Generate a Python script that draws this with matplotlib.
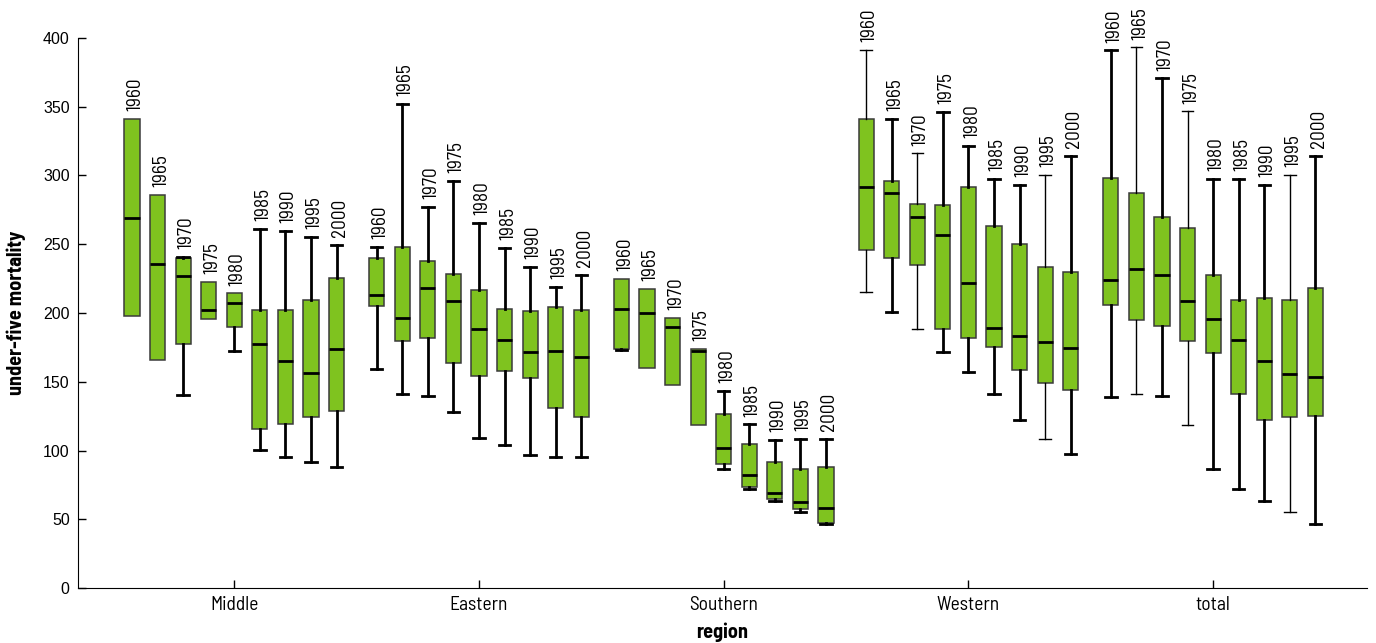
import matplotlib
matplotlib.use("Agg")
import matplotlib.pyplot as plt

plt.rcParams["font.family"] = ["Barlow Semi Condensed", "DejaVu Sans"]

regions = ["Middle", "Eastern", "Southern", "Western", "total"]
years = ["1960", "1965", "1970", "1975", "1980", "1985", "1990", "1995", "2000"]

# box statistics, one row of 9 years per region
whislo = [
    [197.5, 166.0, 140.0, 195.8, 172.5, 100.2, 95.4, 91.5, 88.0],
    [159.0, 141.3, 139.9, 128.0, 109.4, 104.0, 97.0, 95.6, 95.6],
    [173.0, 159.7, 147.6, 118.6, 86.6, 71.9, 63.4, 55.4, 46.7],
    [215.1, 200.9, 188.0, 171.8, 156.8, 141.1, 122.2, 108.7, 97.3],
    [138.6, 141.3, 139.8, 118.6, 86.6, 71.9, 63.4, 55.3, 46.8],
]
q1 = [
    [197.5, 166.0, 177.6, 195.8, 189.7, 115.4, 119.0, 124.1, 128.5],
    [205.2, 179.5, 181.7, 163.3, 153.9, 157.5, 152.5, 130.7, 124.6],
    [174.0, 159.7, 147.6, 118.6, 90.0, 73.8, 64.4, 57.3, 47.4],
    [245.6, 239.8, 235.0, 188.3, 182.0, 175.2, 158.3, 149.0, 144.2],
    [205.6, 195.0, 190.3, 179.6, 170.6, 141.3, 122.3, 124.1, 124.9],
]
med = [
    [269.0, 235.5, 227.0, 202.3, 207.0, 177.6, 164.8, 156.5, 174.0],
    [213.0, 196.2, 218.5, 208.6, 188.0, 180.3, 171.8, 172.3, 168.2],
    [203.0, 200.2, 189.5, 172.0, 102.1, 82.0, 69.0, 62.7, 58.1],
    [291.3, 287.0, 269.6, 257.0, 222.1, 189.3, 183.2, 178.8, 174.5],
    [224.3, 232.3, 227.3, 208.6, 195.4, 180.3, 165.3, 155.6, 153.3],
]
q3 = [
    [341.0, 286.0, 240.0, 222.6, 214.4, 202.0, 202.0, 209.3, 225.5],
    [239.8, 248.3, 237.6, 228.4, 216.6, 203.0, 201.3, 204.5, 202.3],
    [224.8, 217.8, 196.5, 174.0, 126.8, 105.0, 91.5, 86.6, 88.1],
    [341.4, 296.0, 279.0, 278.3, 291.6, 263.0, 250.5, 233.5, 229.9],
    [297.9, 286.9, 269.8, 261.6, 227.8, 209.4, 211.1, 209.4, 218.1],
]
whishi = [
    [341.0, 286.0, 241.0, 222.6, 214.4, 261.3, 259.7, 255.5, 249.7],
    [248.3, 352.3, 277.0, 296.0, 265.5, 247.5, 233.5, 219.2, 227.7],
    [224.8, 217.8, 196.5, 174.0, 143.3, 119.0, 107.7, 108.4, 108.4],
    [391.3, 341.0, 316.0, 346.5, 321.6, 297.4, 293.3, 300.3, 314.3],
    [391.0, 393.1, 370.6, 346.6, 297.4, 297.4, 293.1, 300.3, 314.3],
]

# boxes drawn with thin whiskers in the original
thin = {("Western", "1960"), ("Western", "1970"), ("Western", "1995"),
        ("total", "1965"), ("total", "1975"), ("total", "1995")}

group_step = 9.57
fill = "#7fc31f"

fig = plt.figure(figsize=(13.76, 6.43), dpi=100)
ax = fig.add_axes([0.0567, 0.0855, 0.9368, 0.8555])

stats, positions, keys = [], [], []
for g, reg in enumerate(regions):
    for j, yr in enumerate(years):
        stats.append(dict(whislo=whislo[g][j], q1=q1[g][j], med=med[g][j],
                          q3=q3[g][j], whishi=whishi[g][j]))
        positions.append(g * group_step + j)
        keys.append((reg, yr))

art = ax.bxp(stats, positions=positions, widths=0.59, capwidths=0.45,
             patch_artist=True, showfliers=False,
             boxprops=dict(facecolor=fill, edgecolor="#3a3a3a", linewidth=1.1),
             medianprops=dict(color="black", linewidth=2),
             whiskerprops=dict(color="black", linewidth=2),
             capprops=dict(color="black", linewidth=2))

for i, (s, key) in enumerate(zip(stats, keys)):
    lw = 1 if key in thin else 2
    for k in (2 * i, 2 * i + 1):
        art["whiskers"][k].set_linewidth(lw)
        art["caps"][k].set_linewidth(lw)
    if s["q1"] - s["whislo"] < 0.5:
        art["caps"][2 * i].set_visible(False)
    if s["whishi"] - s["q3"] < 0.5:
        art["caps"][2 * i + 1].set_visible(False)
    ax.annotate(key[1], (positions[i], s["whishi"]), xytext=(2.5, 5.5),
                textcoords="offset points", rotation=90, ha="center",
                va="bottom", fontsize=14)

ax.set_xlim(-2.11, 48.3)
ax.set_ylim(0, 400)
ax.set_yticks(range(0, 401, 50))
ax.set_xticks([g * group_step + 4 for g in range(len(regions))])
ax.set_xticklabels(regions)
ax.tick_params(direction="in", length=6, width=1, pad=6)
ax.tick_params(axis="x", labelsize=14)
for lab in ax.get_yticklabels():
    lab.set_family(["Liberation Sans", "DejaVu Sans"])
    lab.set_fontsize(11.5)
ax.spines["top"].set_visible(False)
ax.spines["right"].set_visible(False)
ax.set_ylabel("under-five mortality", fontsize=14.5, fontweight="bold", labelpad=12)
ax.set_xlabel("region", fontsize=14.5, fontweight="bold", labelpad=6)

fig.savefig("out.png", dpi=100)
